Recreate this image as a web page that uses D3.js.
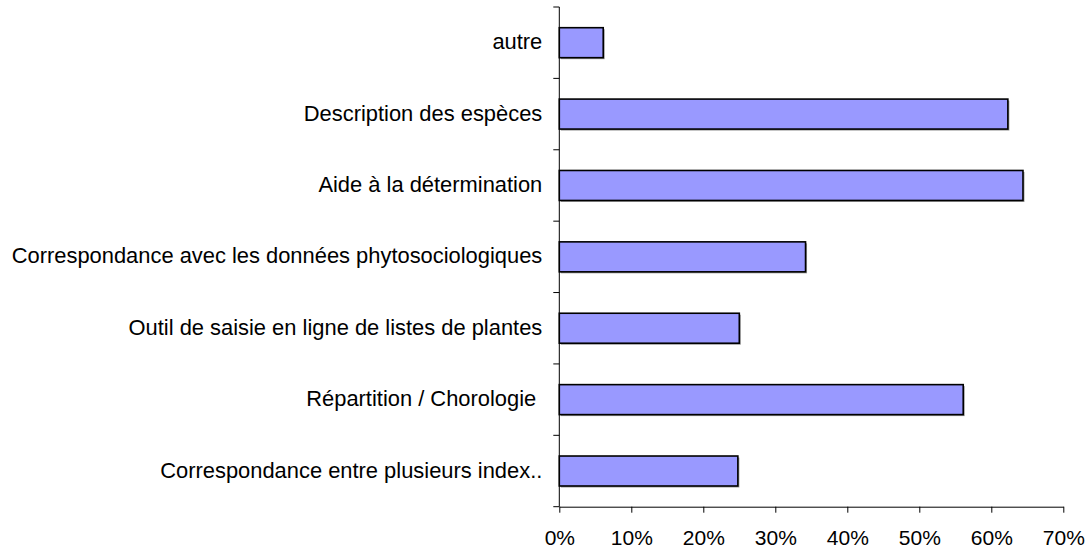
<!DOCTYPE html>
<html><head><meta charset="utf-8">
<script src="https://cdn.jsdelivr.net/npm/d3@7"></script>
<style>body{margin:0;background:#fff}svg{display:block}text{font-family:Arial,"Liberation Sans",sans-serif;fill:#000}</style>
</head><body>
<svg id="c" width="1088" height="550"></svg>
<script>
const categories = ["autre","Description des espèces","Aide à la détermination","Correspondance avec les données phytosociologiques","Outil de saisie en ligne de listes de plantes","Répartition / Chorologie ","Correspondance entre plusieurs index.."];
const values = [0.061, 0.623, 0.644, 0.342, 0.250, 0.561, 0.248];
const xTicks = [0,0.1,0.2,0.3,0.4,0.5,0.6,0.7];

(function(){
const svg = d3.select("#c");
const L = 559.3, R = 1063.3, T = 7, B = 506.7;
const x = d3.scaleLinear().domain([0,0.7]).range([L,R]);
const y = d3.scaleBand().domain(categories).range([T,B]).paddingInner(0.58).paddingOuter(0.29);

svg.append("g").selectAll("rect").data(categories).join("rect")
  .attr("x", x(0)+1.5).attr("y", d=>y(d)+1.5)
  .attr("width", (d,i)=>x(values[i])-x(0)).attr("height", y.bandwidth())
  .attr("fill","#9a9a9a");
svg.append("g").selectAll("rect").data(categories).join("rect")
  .attr("x", x(0)).attr("y", d=>y(d))
  .attr("width", (d,i)=>x(values[i])-x(0)).attr("height", y.bandwidth())
  .attr("fill","#9999ff").attr("stroke","#000").attr("stroke-width",1.6);

const yTickPos = d3.range(categories.length+1).map(i=>T + i*(B-T)/categories.length);
svg.append("line").attr("x1",L).attr("x2",L).attr("y1",T).attr("y2",B).attr("stroke","#000").attr("stroke-width",1);
svg.append("g").selectAll("line").data(yTickPos).join("line")
  .attr("x1",L-6).attr("x2",L).attr("y1",d=>d).attr("y2",d=>d).attr("stroke","#000");
svg.append("g").selectAll("text").data(categories).join("text")
  .attr("x", L-17).attr("y", d=>y(d)+y.bandwidth()/2).attr("dy","0.3em")
  .attr("text-anchor","end").attr("font-size","21.9px").style("white-space","pre").text(d=>d);

const xAxis = d3.axisBottom(x).tickValues(xTicks).tickFormat(d3.format(".0%")).tickSize(6).tickSizeOuter(0).tickPadding(17);
const gx = svg.append("g").attr("transform",`translate(0,${B})`).call(xAxis);
gx.select(".domain").attr("stroke","#000");
gx.selectAll(".tick line").attr("stroke","#000");
gx.selectAll("text").attr("font-size","21px").attr("font-family","Arial, 'Liberation Sans', sans-serif").attr("fill","#000");
})();
</script>
</body></html>
